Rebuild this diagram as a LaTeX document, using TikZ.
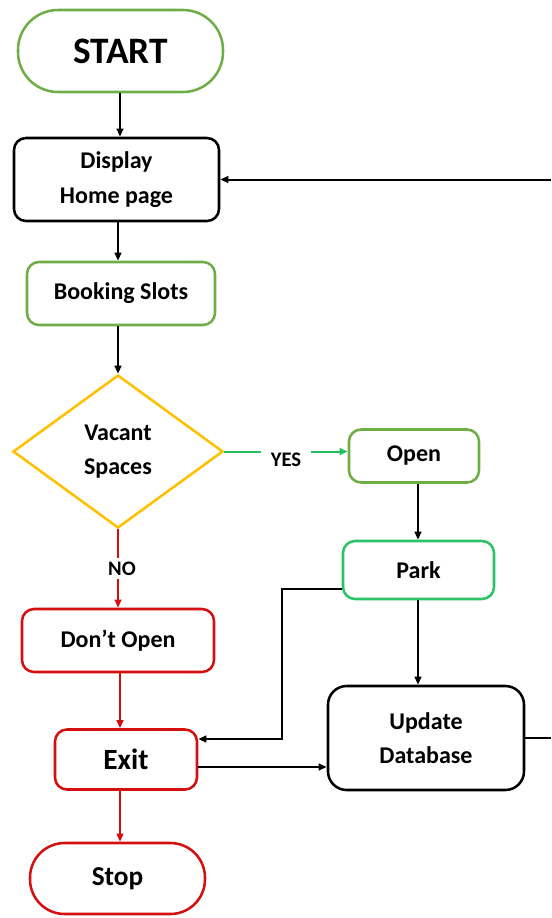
\documentclass[tikz,border=0pt]{standalone}
\usepackage{fontspec}
\setmainfont{Carlito}
\usetikzlibrary{arrows.meta,shapes.geometric}
\definecolor{lgreen}{HTML}{70AD47}
\definecolor{pgreen}{HTML}{2BC465}
\definecolor{ygreen}{HTML}{22C060}
\definecolor{gold}{HTML}{FFC000}
\definecolor{fred}{HTML}{D40F0F}
\begin{document}
\begin{tikzpicture}[x=0.75pt,y=-0.75pt,
  box/.style={draw,line width=1.9pt,rounded corners=9pt,align=center,inner sep=0pt,
    font=\fontsize{18}{26}\selectfont\bfseries},
  conn/.style={line width=1.5pt,-{Triangle[length=6pt,width=5pt]}},
  plain/.style={line width=1.5pt},
  lbl/.style={fill=white,text=black,inner xsep=7pt,inner ysep=3pt,font=\fontsize{15.5}{18}\selectfont\bfseries},
]
\useasboundingbox (0,0) rectangle (551,918);
% nodes
\node[box,draw=lgreen,minimum width=153.75pt,minimum height=61.5pt,rounded corners=30pt,
  font=\fontsize{28}{32}\selectfont\bfseries] (start) at (120.5,51) {START};
\node[box,draw=black,minimum width=153.75pt,minimum height=62.25pt] (disp) at (116.5,179.5) {\raisebox{-2pt}{Display}\\\raisebox{-2pt}{Home page}};
\node[box,draw=lgreen,minimum width=141pt,minimum height=47.25pt] (book) at (121,293.5) {Booking Slots};
\node[draw=gold,line width=1.9pt,diamond,minimum width=157.5pt,minimum height=114.75pt,inner sep=0pt,
  align=center,font=\fontsize{18}{26}\selectfont\bfseries] (dia) at (118,451.5) {Vacant\\Spaces};
\node[box,draw=lgreen,minimum width=97.5pt,minimum height=39.75pt] (open) at (414,456) {Open};
\node[box,draw=pgreen,minimum width=113.25pt,minimum height=43.5pt] (park) at (418.5,570) {Park};
\node[box,draw=fred,minimum width=144pt,minimum height=47.25pt] (dont) at (118,640.5) {Don’t Open};
\node[box,draw=fred,minimum width=106.5pt,minimum height=45pt,font=\fontsize{22}{26}\selectfont\bfseries] (exit) at (126,759.5) {Exit};
\node[box,draw=fred,minimum width=131.25pt,minimum height=53.25pt,rounded corners=26pt,
  font=\fontsize{20.5}{24}\selectfont\bfseries] (stop) at (117.5,878.5) {Stop};
\node[box,draw=black,minimum width=147pt,minimum height=78pt,rounded corners=14pt] (upd) at (426,738) {Update\\Database};
% helper coordinates
\coordinate (c1) at (120,0);
\coordinate (c2) at (118,0);
\coordinate (c3) at (418,0);
\coordinate (pk) at (282,589);
\coordinate (ex) at (282,739);
\coordinate (re1) at (551,741);
\coordinate (re2) at (551,180);
% connectors
\draw[conn] (start.south -| c1) -- (disp.north -| c1);
\draw[conn] (disp.south -| c2) -- (book.north -| c2);
\draw[conn] (book.south -| c2) -- (dia.north);
\draw[conn,ygreen] (dia.east) -- node[lbl,yshift=-6pt]{YES} (dia.east -| open.west);
\draw[conn,fred] (dia.south) -- node[lbl,xshift=3pt]{NO} (dont.north -| dia.south);
\draw[conn,fred] (dont.south -| c1) -- (exit.north -| c1);
\draw[conn,fred] (exit.south -| c1) -- (stop.north -| c1);
\draw[conn] (open.south -| c3) -- (park.north -| c3);
\draw[conn] (park.south -| c3) -- (upd.north -| c3);
\draw[conn] (pk -| park.west) -- (pk) -- (ex) -- (ex -| exit.east);
\draw[conn] ([yshift=-5.6pt]exit.east) -- ([yshift=-5.6pt]exit.east -| upd.west);
\draw[plain] (upd.east) -- (upd.east -| re1);
\draw[conn] (re2 |- disp.east) -- (disp.east);
\end{tikzpicture}
\end{document}
